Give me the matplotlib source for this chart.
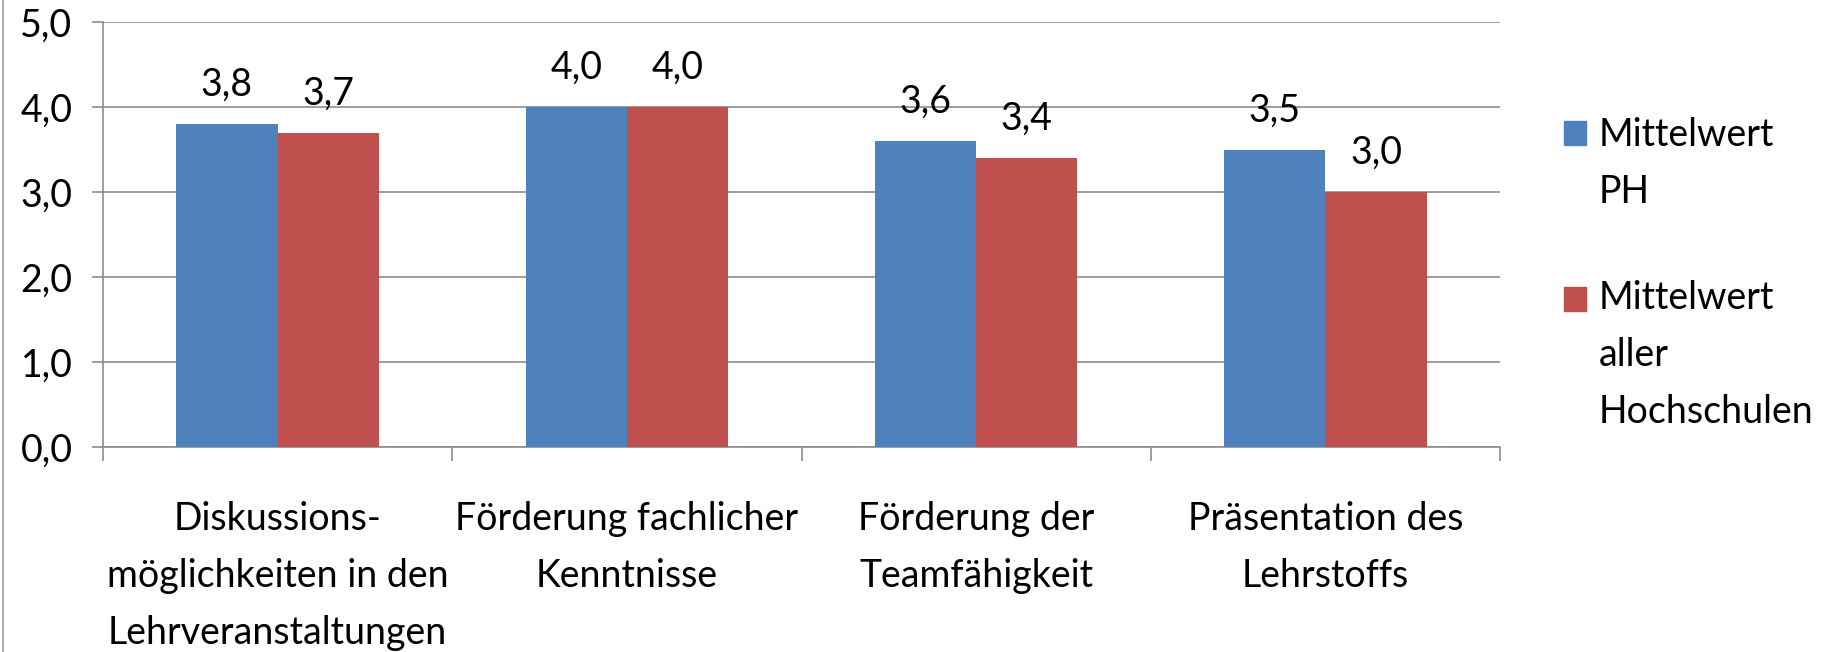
import numpy as np
import matplotlib
matplotlib.use("Agg")
import matplotlib.pyplot as plt
from matplotlib.patches import Rectangle
from matplotlib.lines import Line2D

# Daten
kategorien = [
    "Diskussions-\nmöglichkeiten in den\nLehrveranstaltungen",
    "Förderung fachlicher\nKenntnisse",
    "Förderung der\nTeamfähigkeit",
    "Präsentation des\nLehrstoffs",
]
mittelwert_ph = [3.8, 4.0, 3.6, 3.5]
mittelwert_alle = [3.7, 4.0, 3.4, 3.0]
serien_namen = ["Mittelwert\nPH", "Mittelwert\naller\nHochschulen"]
y_ticks = [0, 1, 2, 3, 4, 5]

blau = "#4F81BD"
rot = "#C0504D"
grau = "#8C8C8C"

plt.rcParams["font.family"] = ["Lato", "DejaVu Sans"]
fs = 27
zeilen = 1.72

fig = plt.figure(figsize=(18.29, 6.52), dpi=100)
ax = fig.add_axes([103 / 1829, 1 - 447 / 652, (1500 - 103) / 1829, (447 - 22) / 652])

x = np.arange(len(kategorien))
breite = 0.29
balken1 = ax.bar(x - breite / 2, mittelwert_ph, breite, color=blau, zorder=3)
balken2 = ax.bar(x + breite / 2, mittelwert_alle, breite, color=rot, zorder=3)

def komma(v):
    return f"{v:.1f}".replace(".", ",")

for balken, werte in [(balken1, mittelwert_ph), (balken2, mittelwert_alle)]:
    for b, v in zip(balken, werte):
        ax.annotate(komma(v), (b.get_x() + b.get_width() / 2, v),
                    xytext=(0, 20), textcoords="offset points",
                    ha="center", va="baseline", fontsize=fs)

ax.set_xlim(-0.5, len(kategorien) - 0.5)
ax.set_ylim(0, 5)
ax.set_yticks(y_ticks)
ax.set_yticklabels([komma(v) for v in y_ticks], fontsize=fs)
ax.yaxis.grid(True, color=grau, linewidth=1.2, zorder=0)

ax.set_xticks(x)
ax.set_xticklabels(kategorien, fontsize=fs, linespacing=zeilen)
ax.set_xticks(np.arange(len(kategorien) + 1) - 0.5, minor=True)
ax.tick_params(axis="x", which="major", length=0, pad=39)
ax.tick_params(axis="x", which="minor", length=10, color=grau, width=1.2)
ax.tick_params(axis="y", length=8, color=grau, width=1.2, pad=14)

for s in ["top", "right"]:
    ax.spines[s].set_visible(False)
for s in ["left", "bottom"]:
    ax.spines[s].set_color(grau)
    ax.spines[s].set_linewidth(1.2)

# Legende (Grundlinie der letzten Zeile)
for farbe, name, y0, y_letzte in [(blau, serien_namen[0], 121, 203),
                                   (rot, serien_namen[1], 287, 423)]:
    fig.add_artist(Rectangle((1564 / 1829, 1 - (y0 + 24) / 652), 22 / 1829, 24 / 652,
                             transform=fig.transFigure, color=farbe))
    fig.text(1599 / 1829, 1 - y_letzte / 652, name, fontsize=fs,
             ha="left", va="baseline", linespacing=zeilen)

# Rahmen links
fig.add_artist(Line2D([3 / 1829, 3 / 1829], [0, 1], transform=fig.transFigure,
                      color="#A0A0A0", linewidth=1.2))

fig.savefig("out.png", dpi=100)
